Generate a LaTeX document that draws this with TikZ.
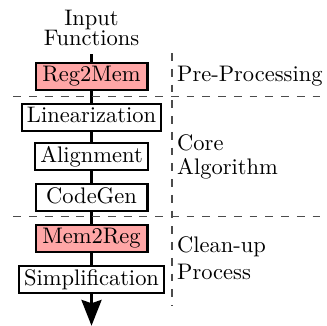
\documentclass[tikz,border=0pt]{standalone}
\usetikzlibrary{arrows.meta}
\begin{document}
\begin{tikzpicture}[
    pass/.style={draw, line width=0.9pt, inner xsep=2.2pt, inner ysep=1.5pt, text height=7pt, text depth=2pt, minimum width=1.75cm},
    marked/.style={pass, fill=red!35},
    sep/.style={line width=0.7pt, black!70, dash pattern=on 3.5pt off 3.5pt},
    phase/.style={anchor=west, align=left}
]
                \useasboundingbox (0,0) rectangle (5.11,-5.09);
                \node[align=center] (In) at (1.43,-0.44) {Input\\[-3pt]Functions};
                \node[marked] (R2M) at (1.43,-1.19) {Reg2Mem};
                \node[pass] (Lin) at (1.43,-1.83) {Linearization};
                \node[pass] (Ali) at (1.43,-2.45) {Alignment};
                \node[pass] (CG) at (1.43,-3.09) {CodeGen};
                \node[marked] (M2R) at (1.43,-3.72) {Mem2Reg};
                \node[pass] (Simp) at (1.43,-4.37) {Simplification};
                \coordinate (Out) at (1.43,-5.09);
                \draw[line width=0.9pt] (In) -- (R2M) -- (Lin) -- (Ali) -- (CG) -- (M2R) -- (Simp);
                \draw[line width=0.9pt, -{Stealth[length=11.5pt, width=9pt, inset=1.5pt]}] (Simp) -- (Out);
                \draw[sep] (0.21,-1.51) -- (5.11,-1.51);
                \draw[sep] (0.21,-3.386) -- (5.11,-3.386);
                \draw[sep] (2.6875,-0.83) -- (2.6875,-4.77);
                \node[phase] (Pre) at (2.645,-1.19) {Pre-Processing};
                \node[phase] (Core) at (2.645,-2.45) {Core\\[-1pt]Algorithm};
                \node[phase] (Clean) at (2.645,-4.04) {Clean-up\\Process};
            \end{tikzpicture}
\end{document}
